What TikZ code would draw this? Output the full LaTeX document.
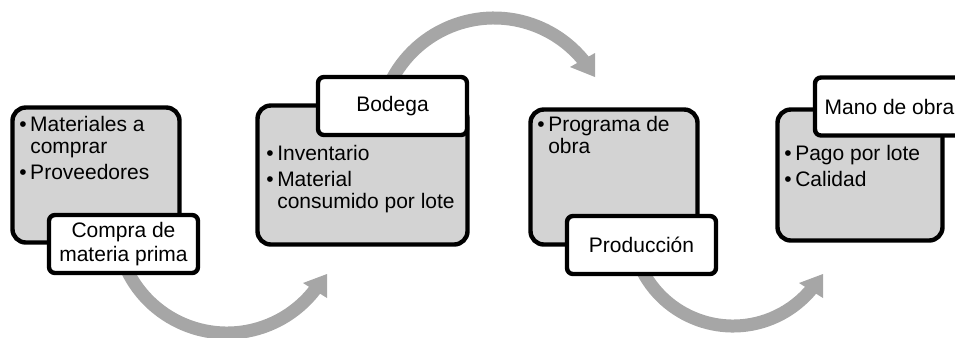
\documentclass[tikz,border=0pt]{standalone}
\usepackage{fontspec}
\setmainfont{Liberation Sans}
\definecolor{boxgray}{HTML}{D3D3D3}
\definecolor{arrowgray}{HTML}{A6A6A6}
\newcommand\bulx{\makebox[8.25pt][l]{•}}
\newcommand\indx{\hspace*{8.25pt}}
\begin{document}
\begin{tikzpicture}[x=0.75pt,y=-0.75pt,
  card/.style={draw=black, line width=3.3pt, fill=boxgray, rounded corners=10pt,
    inner sep=0pt},
  tag/.style={draw=black, line width=3.3pt, fill=white, rounded corners=4.5pt,
    inner sep=0pt, minimum width=111.75pt, minimum height=43.5pt, align=center,
    font=\fontsize{15.75}{18}\selectfont},
  bullets/.style={anchor=base west, inner sep=0pt, font=\fontsize{15.75}{16.5}\selectfont},
  flow/.style={draw=arrowgray, line width=9.75pt},
  head/.style={fill=arrowgray}]
\useasboundingbox (0,0) rectangle (955,337);
\clip (0,0) rectangle (955,337);

% circular arrows (behind everything)
\coordinate (c1) at (227,222);
\coordinate (c2) at (494,133.5);
\coordinate (c3) at (733,224);
\draw[flow] (c1) ++(155:111) arc[start angle=155, end angle=36, radius=111];
\draw[flow] (c2) ++(205:115.5) arc[start angle=205, end angle=322, radius=115.5];
\draw[flow] (c3) ++(155:102) arc[start angle=155, end angle=38.5, radius=102];
\coordinate (h1) at (327,274);
\coordinate (h2) at (595,77);
\coordinate (h3) at (823,274);
\fill[head] (h1) -- (303,283) -- (327,298) -- cycle;
\fill[head] (h2) -- (570,67) -- (595,53) -- cycle;
\fill[head] (h3) -- (799,283) -- (823,298) -- cycle;

% gray cards
\node[card, minimum width=125.25pt, minimum height=101.25pt] (b1) at (96,175) {};
\node[card, minimum width=157.5pt, minimum height=104.25pt] (b2) at (362.5,175) {};
\node[card, minimum width=125.25pt, minimum height=101.25pt] (b3) at (614,177) {};
\node[card, minimum width=123.75pt, minimum height=98.25pt] (b4) at (860,175) {};

% bullet texts
\node[bullets] (t1) at (19,131.5) {\begin{tabular}[t]{@{}l@{}}
  \bulx Materiales a\\ \indx comprar\\[3pt] \bulx Proveedores\end{tabular}};
\node[bullets] (t2) at (266,160) {\begin{tabular}[t]{@{}l@{}}
  \bulx Inventario\\[3pt] \bulx Material\\ \indx consumido por lote\end{tabular}};
\node[bullets] (t3) at (537,131.7) {\begin{tabular}[t]{@{}l@{}}
  \bulx Programa de\\ \indx obra\end{tabular}};
\node[bullets] (t4) at (784,160) {\begin{tabular}[t]{@{}l@{}}
  \bulx Pago por lote\\[3pt] \bulx Calidad\end{tabular}};

% white title tags
\node[tag] (l1) at (123.5,244) {Compra de\\materia prima};
\node[tag] (l2) at (392.5,106) {Bodega};
\node[tag] (l3) at (641.5,245) {Producción};
\node[tag] (l4) at (889.5,106.5) {Mano de obra};
\end{tikzpicture}
\end{document}
